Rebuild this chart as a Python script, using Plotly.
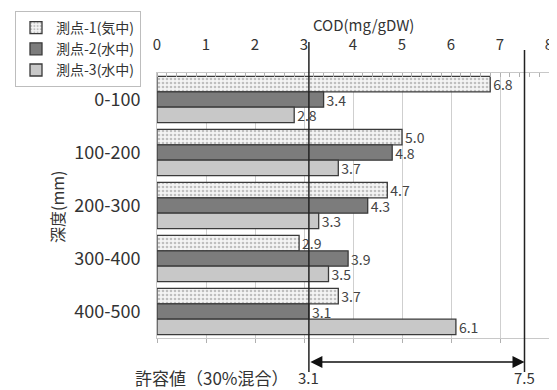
import plotly.graph_objects as go

categories = ["0-100", "100-200", "200-300", "300-400", "400-500"]
series_names = ["測点-1(気中)", "測点-2(水中)", "測点-3(水中)"]
s1 = [6.8, 5.0, 4.7, 2.9, 3.7]
s2 = [3.4, 4.8, 4.3, 3.9, 3.1]
s3 = [2.8, 3.7, 3.3, 3.5, 6.1]
tick_vals = [0, 1, 2, 3, 4, 5, 6, 7, 8]
limit_low = 3.1
limit_high = 7.5

FONT = "Noto Sans CJK JP"
O = 8  # page body margin offset
W, H = 557 - O, 390 - O
L, R, T, B = 157 - O, 8, 73 - O, 52
PW = W - L - R
PH = H - T - B

def py(px):  # reference pixel y -> paper y
    return (H - B - (px - O)) / PH

def pxx(px):  # reference pixel x -> paper x
    return (px - O - L) / PW

fig = go.Figure()
styles = [
    dict(color="#f4f4f4", pattern=dict(shape=".", fgcolor="#8a8a8a", bgcolor="#f4f4f4", size=4, solidity=0.35)),
    dict(color="#7c7c7c"),
    dict(color="#c8c8c8"),
]
for name, vals, st in zip(series_names, [s1, s2, s3], styles):
    fig.add_trace(go.Bar(
        y=categories, x=vals, name=name, orientation="h",
        marker=dict(line=dict(color="#3a3a3a", width=1.3), **st),
        text=[f"{v:.1f}" for v in vals], textposition="outside",
        constraintext="none",
        textfont=dict(family=FONT, size=14, color="#444"),
        cliponaxis=False,
    ))

# bottom axis (major ticks only, outside)
fig.add_trace(go.Scatter(x=[0, 8], y=[categories[0], categories[0]], xaxis="x2",
                         mode="markers", marker=dict(opacity=0), showlegend=False, hoverinfo="skip"))

fig.update_layout(
    width=W, height=H,
    margin=dict(l=L, r=R, t=T, b=B, autoexpand=False),
    paper_bgcolor="white", plot_bgcolor="white",
    barmode="group", bargap=0.13, bargroupgap=0.0,
    font=dict(family=FONT, color="#333"),
    xaxis=dict(side="top", range=[0, 8], tickvals=tick_vals, showgrid=True,
               gridcolor="#cfcfcf", gridwidth=1, zeroline=False,
               showline=True, linecolor="#c8c8c8", mirror=False,
               ticks="", ticklabelstandoff=16,
               tickfont=dict(family=FONT, size=15, color="#333"),
               minor=dict(dtick=0.2, ticks="inside", ticklen=4, tickcolor="#b0b0b0", showgrid=False)),
    xaxis2=dict(overlaying="x", side="bottom", range=[0, 8], tickvals=tick_vals,
                showticklabels=False, ticks="outside", ticklen=4, tickcolor="#b0b0b0",
                showgrid=False, zeroline=False, showline=True, linecolor="#c8c8c8"),
    yaxis=dict(autorange="reversed", showgrid=False, showline=True, linecolor="#c8c8c8",
               mirror=True, ticks="", ticklabelstandoff=12,
               tickfont=dict(family=FONT, size=18, color="#333")),
    legend=dict(x=pxx(15), y=py(11), xanchor="left", yanchor="top",
                bordercolor="#bdbdbd", borderwidth=1, bgcolor="white",
                font=dict(family=FONT, size=14, color="#333"),
                tracegroupgap=0, itemwidth=30),
    showlegend=True,
)

# vertical limit lines
fig.add_shape(type="line", xref="x", yref="paper", x0=limit_low, x1=limit_low,
              y0=py(372), y1=py(42), line=dict(color="#222", width=1.5), layer="above")
fig.add_shape(type="line", xref="x", yref="paper", x0=limit_high, x1=limit_high,
              y0=py(372), y1=py(50), line=dict(color="#222", width=1.5), layer="above")

# double arrow
fig.add_annotation(x=limit_high, y=py(362), xref="x", yref="paper",
                   ax=limit_low, ay=0, axref="x", ayref="pixel",
                   showarrow=True, arrowhead=2, arrowside="end+start",
                   arrowsize=1.6, arrowwidth=1.5, arrowcolor="#111", text="")

# texts
fig.add_annotation(x=2.73, y=py(377), xref="x", yref="paper", xanchor="right", yanchor="middle",
                   text="許容値（30%混合）", showarrow=False,
                   font=dict(family=FONT, size=17, color="#333"))
fig.add_annotation(x=limit_low, y=py(377), xref="x", yref="paper", xanchor="center", yanchor="middle",
                   text=f"{limit_low}", showarrow=False, font=dict(family=FONT, size=15, color="#333"))
fig.add_annotation(x=limit_high, y=py(377), xref="x", yref="paper", xanchor="center", yanchor="middle",
                   text=f"{limit_high}", showarrow=False, font=dict(family=FONT, size=15, color="#333"))
fig.add_annotation(x=4.22, y=py(24), xref="x", yref="paper", xanchor="center", yanchor="middle",
                   text="COD(mg/gDW)", showarrow=False, font=dict(family=FONT, size=15, color="#333"))
fig.add_annotation(x=pxx(57), y=py(207), xref="paper", yref="paper", textangle=-90,
                   xanchor="center", yanchor="middle", text="深度(mm)", showarrow=False,
                   font=dict(family=FONT, size=16, color="#333"))

fig.write_html("out.html")
